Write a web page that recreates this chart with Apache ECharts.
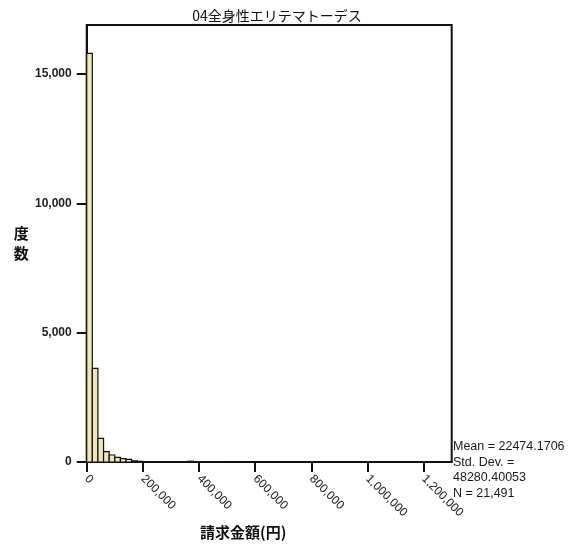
<!DOCTYPE html>
<html>
<head>
<meta charset="utf-8">
<script src="https://cdn.jsdelivr.net/npm/echarts@6/dist/echarts.min.js"></script>
<style>
html,body{margin:0;padding:0;background:#fff;}
#chart{width:580px;height:554px;}
</style>
</head>
<body>
<div id="chart"></div>
<script>
// ---- data ----
const chartTitle = '04全身性エリテマトーデス';
const xAxisTitle = '請求金額(円)';
const yAxisTitle = '度数';
const binWidth = 20000;
// counts per 20,000-yen bin, starting at 0
const binCounts = [15800, 3620, 916, 400, 270, 180, 130, 100, 45, 25,
                   15, 10, 8, 6, 5, 4, 3, 3, 30, 15,
                   3, 2, 2, 12, 1, 1, 1, 1, 0, 1,
                   0, 1, 0, 0, 1, 0, 0, 0, 0, 0,
                   0, 0, 0, 0, 0, 0, 0, 0, 0, 0,
                   0, 0, 0, 0, 0, 0, 0, 0, 0, 0,
                   0, 0, 1];
const xTicks = [0, 200000, 400000, 600000, 800000, 1000000, 1200000];
const yTicks = [0, 5000, 10000, 15000];
const xMax = 1300000;
const yMax = 16900;
const statsLines = ['Mean = 22474.1706', 'Std. Dev. =', '48280.40053', 'N = 21,491'];

const histData = binCounts.map((c, i) => [i * binWidth, (i + 1) * binWidth, c]);

function renderItem(params, api) {
  const p0 = api.coord([api.value(0), 0]);
  const p1 = api.coord([api.value(1), api.value(2)]);
  return {
    type: 'rect',
    shape: { x: p0[0], y: p1[1], width: p1[0] - p0[0], height: p0[1] - p1[1] },
    style: { fill: '#efe6b6', stroke: '#111', lineWidth: 1.2 }
  };
}

const fmt = v => v.toLocaleString('en-US');
const latin = 'Liberation Sans, Arial, sans-serif';
const cjk = '"Noto Sans CJK JP", sans-serif';

const chart = echarts.init(document.getElementById('chart'));
chart.setOption({
  animation: false,
  backgroundColor: '#fff',
  title: {
    text: chartTitle,
    left: 272, top: 4, textAlign: 'center',
    textStyle: { fontFamily: cjk, fontSize: 14, fontWeight: 'normal', color: '#111' }
  },
  grid: {
    left: 86.7, right: 128.3, top: 25, bottom: 92,
    show: true, borderColor: '#111', borderWidth: 2, backgroundColor: 'transparent'
  },
  xAxis: {
    type: 'value', min: 0, max: xMax,
    splitLine: { show: false },
    axisLine: { show: true, onZero: false, lineStyle: { color: '#111', width: 2 } },
    axisTick: { show: true, length: 10, customValues: xTicks, lineStyle: { color: '#111', width: 2 } },
    axisLabel: {
      customValues: xTicks, rotate: -45, margin: 15,
      formatter: v => fmt(v),
      fontFamily: latin, fontSize: 12, color: '#1a1a1a'
    }
  },
  yAxis: {
    type: 'value', min: 0, max: yMax,
    name: yAxisTitle.split('').join('\n'),
    nameLocation: 'middle', nameRotate: 0, nameGap: 58,
    nameTextStyle: { fontFamily: cjk, fontSize: 15, fontWeight: 'bold', color: '#111', lineHeight: 20 },
    splitLine: { show: false },
    axisLine: { show: true, lineStyle: { color: '#111', width: 2 } },
    axisTick: { show: true, length: 10, customValues: yTicks, lineStyle: { color: '#111', width: 2 } },
    axisLabel: {
      customValues: yTicks, margin: 15,
      formatter: v => fmt(v),
      fontFamily: latin, fontSize: 12, fontWeight: 'bold', color: '#222'
    }
  },
  graphic: [
    {
      type: 'text', left: 200, top: 525,
      style: { text: xAxisTitle, fontFamily: cjk, fontSize: 15, fontWeight: 'bold', fill: '#111' }
    },
    {
      type: 'text', left: 453, top: 439,
      style: { text: statsLines.join('\n'), fontFamily: latin, fontSize: 12.5, lineHeight: 15.5, fill: '#1a1a1a' }
    }
  ],
  series: [{
    type: 'custom',
    renderItem: renderItem,
    encode: { x: [0, 1], y: 2 },
    data: histData
  }]
});
</script>
</body>
</html>
